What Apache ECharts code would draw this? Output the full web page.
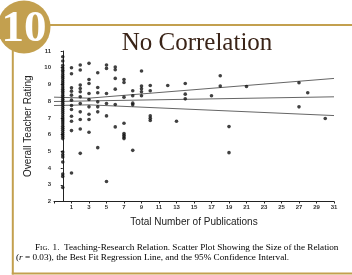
<!DOCTYPE html>
<html>
<head>
<meta charset="utf-8">
<script src="https://cdn.jsdelivr.net/npm/echarts@6/dist/echarts.min.js"></script>
<style>
html,body{margin:0;padding:0;background:#fff;}
#chart{width:352px;height:275px;}
</style>
</head>
<body>
<div id="chart"></div>
<script>
// Number of publications (x) for each column of points
const columnX = [0, 1, 2, 3, 4, 5, 6, 7, 8, 9, 10, 12, 13, 14, 17, 18, 19, 21, 27, 28, 30];
// Teacher ratings read for each column
const columnRatings = [
  [10.66, 10.4, 10.14, 9.98, 9.85, 9.74, 9.6, 9.47, 9.36, 9.22, 9.1, 8.98, 8.85, 8.72, 8.6, 8.49, 8.36, 8.24, 8.11, 8.0, 7.88, 7.75, 7.62, 7.5, 7.38, 7.26, 7.13, 7.0, 6.88, 6.76, 6.63, 6.5, 6.38, 6.26, 6.12, 6.0, 5.88, 5.76, 4.96, 4.8, 4.66, 4.36, 3.64, 3.5, 2.84],
  [10.0, 9.64, 8.8, 8.6, 8.36, 8.06, 7.74, 7.5, 7.1, 6.8, 6.24, 3.7],
  [10.16, 9.86, 8.96, 8.76, 8.56, 8.26, 7.86, 7.36, 6.9, 6.34, 4.88],
  [10.26, 9.3, 9.06, 8.46, 8.1, 7.66, 7.22, 6.9, 6.14],
  [9.7, 8.82, 8.5, 7.96, 7.66, 7.36, 5.22],
  [10.16, 9.96, 8.46, 7.86, 7.12, 3.2],
  [10.04, 9.88, 9.36, 8.72, 7.8, 6.46],
  [9.3, 9.12, 8.24, 6.68, 6.06, 5.96, 5.86, 5.76],
  [8.62, 8.32, 7.88, 7.78, 5.06],
  [9.8, 8.9, 8.74, 8.56, 8.32],
  [8.94, 8.62, 7.12, 6.98, 6.84],
  [8.94],
  [6.8],
  [9.06, 8.42, 8.14],
  [8.32],
  [9.52, 8.9],
  [6.48, 4.92],
  [8.88],
  [9.1, 7.66],
  [8.5],
  [6.96]
];
// Best fit regression line and 95% confidence interval
const fitLine = [[-1, 7.98], [31, 8.26]];
const upperCI = [[-1, 8.24], [3, 8.18], [31, 9.36]];
const lowerCI = [[-1, 7.74], [3, 7.78], [31, 7.14]];
// Tick labels
const xTicks = [1, 3, 5, 7, 9, 11, 13, 15, 17, 19, 21, 23, 25, 27, 29, 31];
const yTicks = [2, 3, 4, 5, 6, 7, 8, 9, 10, 11];

const points = [];
columnX.forEach((x, i) => columnRatings[i].forEach(r => points.push([x, r])));

const GOLD = '#c3a04f';
const chart = echarts.init(document.getElementById('chart'), null, {renderer: 'canvas'});
const lineSeries = (d) => ({
  type: 'line', data: d, symbol: 'none', silent: true,
  lineStyle: {color: '#666', width: 1}, z: 3
});
chart.setOption({
  animation: false,
  backgroundColor: '#fff',
  grid: {left: 54, right: 18, top: 51, bottom: 73.5, containLabel: false},
  xAxis: {
    type: 'value', min: -1, max: 31, interval: 2,
    axisLine: {show: true, lineStyle: {color: '#222', width: 1}},
    axisTick: {show: true, length: 2, lineStyle: {color: '#222'}},
    splitLine: {show: false},
    axisLabel: {
      fontSize: 6, fontWeight: 'bold', color: '#333', margin: 3,
      fontFamily: 'Liberation Sans',
      formatter: v => xTicks.includes(v) ? String(v) : ''
    },
    name: 'Total Number of Publications', nameLocation: 'middle', nameGap: 16,
    nameTextStyle: {fontSize: 10, color: '#222', fontFamily: 'Liberation Sans'}
  },
  yAxis: {
    type: 'value', min: 2, max: 11, interval: 1,
    axisLine: {show: true, lineStyle: {color: '#222', width: 1}},
    axisTick: {show: true, length: 2, lineStyle: {color: '#222'}},
    splitLine: {show: false},
    axisLabel: {
      fontSize: 6, fontWeight: 'bold', color: '#333', margin: 3,
      fontFamily: 'Liberation Sans',
      formatter: v => yTicks.includes(v) ? String(v) : ''
    },
    name: 'Overall Teacher Rating', nameLocation: 'middle', nameGap: 16, nameRotate: 90,
    nameTextStyle: {fontSize: 10, color: '#222', fontFamily: 'Liberation Sans'}
  },
  series: [
    {type: 'scatter', data: points, symbol: 'circle', symbolSize: 3.6,
     itemStyle: {color: '#111'}, z: 4},
    lineSeries(fitLine), lineSeries(upperCI), lineSeries(lowerCI)
  ],
  graphic: [
    {type: 'line', shape: {x1: 40, y1: 25, x2: 352, y2: 25}, style: {stroke: GOLD, lineWidth: 2}},
    {type: 'line', shape: {x1: 12.8, y1: 45, x2: 12.8, y2: 274.5}, style: {stroke: GOLD, lineWidth: 2}},
    {type: 'line', shape: {x1: 11.8, y1: 273.5, x2: 352, y2: 273.5}, style: {stroke: GOLD, lineWidth: 2}},
    {type: 'circle', shape: {cx: 24, cy: 27, r: 26.5}, style: {fill: GOLD}, z: 10},
    {type: 'text', x: 24, y: 29, z: 11, style: {
      text: '10', fill: '#fff', font: 'bold 45px "Liberation Serif"',
      textAlign: 'center', textVerticalAlign: 'middle'}},
    {type: 'text', x: 197, y: 43, style: {
      text: 'No Correlation', fill: '#3a2418', font: '25px "Liberation Serif"',
      textAlign: 'center', textVerticalAlign: 'middle'}},
    {type: 'text', x: 35, y: 248, style: {
      text: '{n|F}{sc|IG.} {n|1.  Teaching-Research Relation. Scatter Plot Showing the Size of the Relation}',
      textVerticalAlign: 'middle',
      rich: {
        n: {fontSize: 9.2, fontFamily: 'Liberation Serif', color: '#333'},
        sc: {fontSize: 7, fontFamily: 'Liberation Serif', color: '#333'}
      }}},
    {type: 'text', x: 16, y: 257.5, style: {
      text: '{n|(}{i|r}{n| = 0.03), the Best Fit Regression Line, and the 95% Confidence Interval.}',
      textVerticalAlign: 'middle',
      rich: {
        n: {fontSize: 9.2, fontFamily: 'Liberation Serif', color: '#333'},
        i: {fontSize: 9.2, fontFamily: 'Liberation Serif', fontStyle: 'italic', color: '#333'}
      }}}
  ]
});
</script>
</body>
</html>
